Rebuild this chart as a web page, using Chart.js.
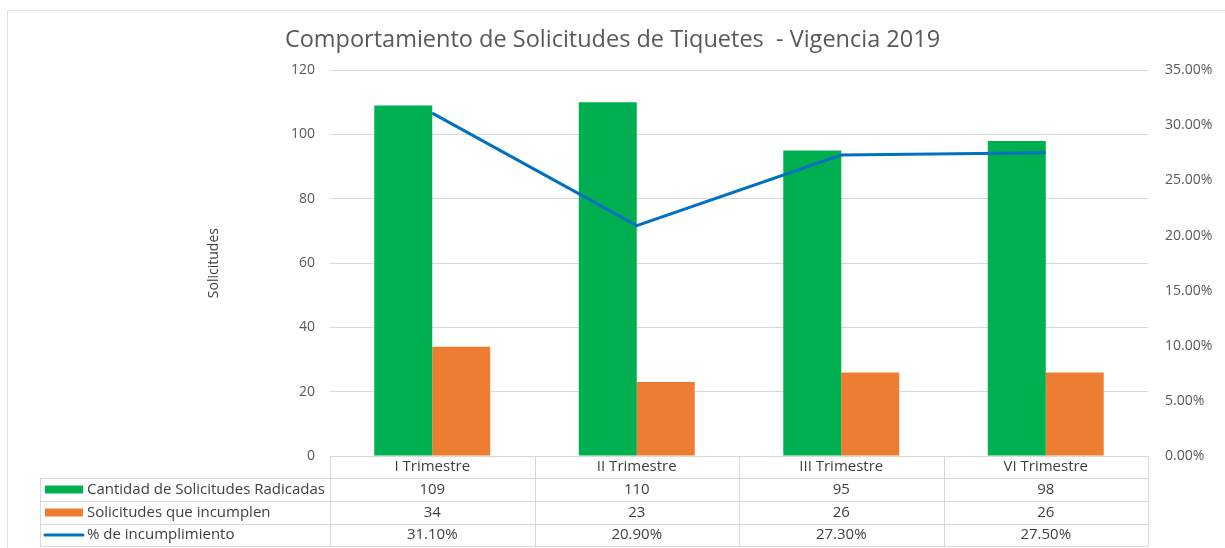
<!DOCTYPE html>
<html>
<head>
<meta charset="utf-8">
<script src="https://cdn.jsdelivr.net/npm/chart.js@4"></script>
<style>
  html, body { margin: 0; padding: 0; background: #fff; }
  #wrap { width: 1225px; height: 548px; }
</style>
</head>
<body>
<div id="wrap"><canvas id="grafico"></canvas></div>
<script>
const categorias = ['I Trimestre', 'II Trimestre', 'III Trimestre', 'VI Trimestre']
const radicadas = [109, 110, 95, 98]
const incumplen = [34, 23, 26, 26]
const pctIncumplimiento = [31.10, 20.90, 27.30, 27.50]

const FUENTE = 'Open Sans'
const GRIS = '#595959'
const LINEA = '#d9d9d9'

// marco exterior del grafico
const marco = {
    id: 'marco',
    beforeDraw(chart) {
        const ctx = chart.ctx
        ctx.save()
        ctx.strokeStyle = '#e3e3e3'
        ctx.lineWidth = 1
        ctx.strokeRect(7.5, 10.5, 1400, 700)
        ctx.restore()
    }
}

// tabla de datos debajo del eje x
const tablaDatos = {
    id: 'tablaDatos',
    afterDraw(chart) {
        const ctx = chart.ctx
        const x = chart.scales.x
        const area = chart.chartArea
        const paso = (area.right - area.left) / categorias.length
        const filas = [area.bottom, area.bottom + 22, area.bottom + 45, area.bottom + 68, area.bottom + 90]
        const izq = 40

        ctx.save()
        ctx.strokeStyle = LINEA
        ctx.lineWidth = 1

        // lineas horizontales
        filas.forEach((y, i) => {
            ctx.beginPath()
            ctx.moveTo(i === 0 ? area.left : izq, Math.round(y) + 0.5)
            ctx.lineTo(area.right, Math.round(y) + 0.5)
            ctx.stroke()
        })
        // lineas verticales
        ctx.beginPath()
        ctx.moveTo(izq + 0.5, filas[1])
        ctx.lineTo(izq + 0.5, filas[4])
        ctx.stroke()
        for (let i = 0; i <= categorias.length; i++) {
            const xp = Math.round(area.left + i * paso) + 0.5
            ctx.beginPath()
            ctx.moveTo(xp, filas[0])
            ctx.lineTo(xp, filas[4])
            ctx.stroke()
        }

        ctx.font = '15px "' + FUENTE + '"'
        ctx.fillStyle = '#404040'
        ctx.textAlign = 'center'
        ctx.textBaseline = 'middle'

        const valores = [
            radicadas.map(v => String(v)),
            incumplen.map(v => String(v)),
            pctIncumplimiento.map(v => v.toFixed(2) + '%')
        ]
        categorias.forEach((c, i) => {
            const cx = x.getPixelForValue(i)
            ctx.fillText(c, cx, (filas[0] + filas[1]) / 2)
            valores.forEach((fila, j) => {
                ctx.fillText(fila[i], cx, (filas[j + 1] + filas[j + 2]) / 2)
            })
        })

        // leyenda en la primera columna
        const series = chart.data.datasets
        const orden = [1, 2, 0]
        orden.forEach((d, j) => {
            const ds = series[d]
            const ym = (filas[j + 1] + filas[j + 2]) / 2
            if (ds.type === 'line') {
                ctx.strokeStyle = ds.borderColor
                ctx.lineWidth = 3
                ctx.lineCap = 'round'
                ctx.beginPath()
                ctx.moveTo(45, ym)
                ctx.lineTo(83, ym)
                ctx.stroke()
            } else {
                ctx.fillStyle = ds.backgroundColor
                ctx.fillRect(45, ym - 4, 38, 8)
            }
            ctx.fillStyle = '#404040'
            ctx.textAlign = 'left'
            ctx.fillText(ds.label, 87, ym)
        })
        ctx.restore()
    }
}

new Chart(document.getElementById('grafico'), {
    data: {
        labels: categorias,
        datasets: [
            {
                type: 'line',
                label: '% de incumplimiento',
                data: pctIncumplimiento,
                yAxisID: 'y1',
                borderColor: '#0070C0',
                borderWidth: 3,
                pointRadius: 0,
                tension: 0,
                order: 0,
            },
            {
                type: 'bar',
                label: 'Cantidad de Solicitudes Radicadas',
                data: radicadas,
                yAxisID: 'y',
                backgroundColor: '#00B050',
                categoryPercentage: 0.567,
                barPercentage: 1,
                order: 1,
            },
            {
                type: 'bar',
                label: 'Solicitudes que incumplen',
                data: incumplen,
                yAxisID: 'y',
                backgroundColor: '#ED7D31',
                categoryPercentage: 0.567,
                barPercentage: 1,
                order: 1,
            },
        ]
    },
    options: {
        responsive: true,
        maintainAspectRatio: false,
        animation: false,
        layout: {
            padding: { left: 0, right: 0, top: 0, bottom: 92 }
        },
        plugins: {
            legend: { display: false },
            tooltip: { enabled: false },
            title: {
                display: true,
                text: 'Comportamiento de Solicitudes de Tiquetes  - Vigencia 2019',
                color: GRIS,
                font: { family: FUENTE, size: 23.5, weight: 'normal' },
                padding: { top: 26, bottom: 16 },
            },
        },
        scales: {
            x: {
                display: false,
            },
            y: {
                position: 'left',
                min: 0,
                max: 120,
                ticks: {
                    stepSize: 20,
                    color: GRIS,
                    font: { family: FUENTE, size: 14 },
                    padding: 15,
                },
                grid: {
                    color: LINEA,
                    drawTicks: false,
                },
                border: { display: false },
                title: {
                    display: true,
                    text: 'Solicitudes',
                    color: '#404040',
                    font: { family: FUENTE, size: 14 },
                    padding: { top: 206, bottom: 0 },
                },
                afterFit(scale) {
                    scale.width = 330
                },
            },
            y1: {
                position: 'right',
                min: 0,
                max: 35,
                ticks: {
                    stepSize: 5,
                    color: GRIS,
                    font: { family: FUENTE, size: 14 },
                    padding: 17,
                    callback: v => v.toFixed(2) + '%',
                },
                grid: { display: false, drawTicks: false },
                border: { display: false },
                afterFit(scale) {
                    scale.width = 77
                },
            },
        },
    },
    plugins: [marco, tablaDatos],
})
</script>
</body>
</html>
